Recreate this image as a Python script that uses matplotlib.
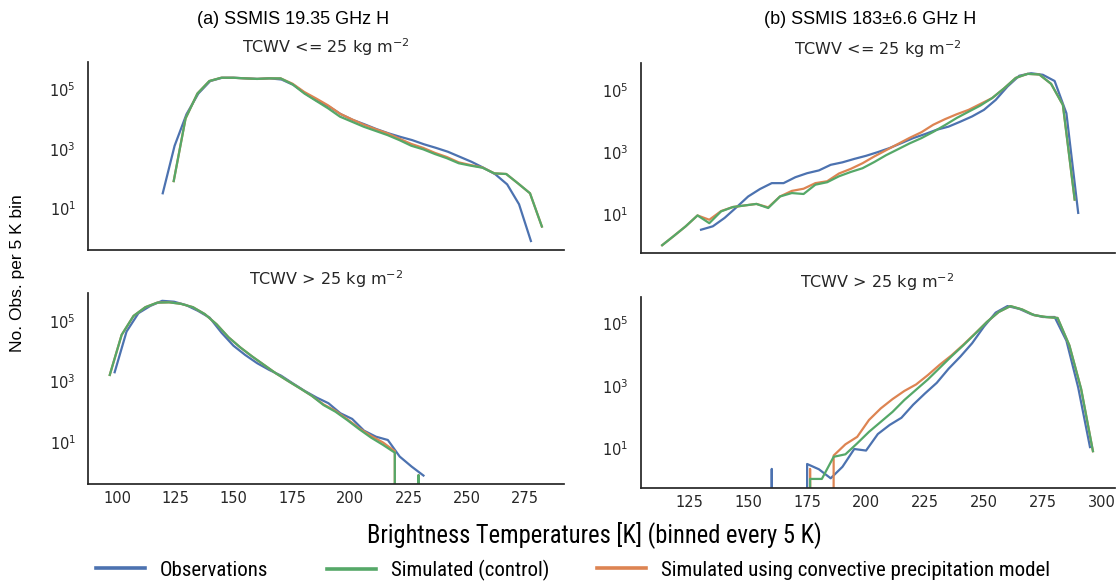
import numpy as np
import matplotlib
matplotlib.use("Agg")
import matplotlib.pyplot as plt
from matplotlib import font_manager as fm
from matplotlib.ticker import FixedLocator, NullLocator
from matplotlib.lines import Line2D

# ---------------- data (counts per bin) ----------------
# bin spacing
left_step, right_step = 5.09, 5.0

# (a) 19.35 GHz H, TCWV <= 25
tl_obs_x0, tl_sim_x0 = 119.6, 124.3
tl_obs = [31.6, 1260, 14500, 72400, 190000, 245000, 245000, 234000, 224000, 234000,
          214000, 141000, 72400, 40700, 26300, 14500, 9330, 6610, 4570, 3310,
          2510, 1950, 1410, 1070, 794, 537, 363, 229, 138, 63.1, 13.5, 0.78]
tl_ctrl = [81.3, 10500, 72400, 190000, 245000, 245000, 234000, 224000, 234000, 234000,
           148000, 72400, 40700, 22900, 12000, 8130, 5500, 3980, 2880, 1950,
           1260, 955, 661, 479, 324, 269, 229, 148, 141, 67.6, 31.6, 2.4]
tl_conv = [81.3, 10500, 72400, 190000, 245000, 245000, 234000, 224000, 234000, 234000,
           155000, 81300, 49000, 28800, 15100, 9770, 6460, 4570, 3310, 2190,
           1450, 1070, 724, 525, 347, 282, 234, 148, 141, 67.6, 31.6, 2.4]

# (a) 19.35 GHz H, TCWV > 25
bl_obs_x0, bl_sim_x0 = 99.0, 96.9
bl_obs = [2040, 45700, 186000, 324000, 479000, 447000, 347000, 224000, 132000, 41700,
          15500, 7590, 4070, 2450, 1580, 871, 490, 295, 191, 89.1,
          57.5, 23.4, 14.8, 11.5, 3.24, 1.51, 0.76]
bl_ctrl = [1660, 35500, 151000, 295000, 417000, 427000, 380000, 295000, 174000, 79400,
           29500, 13500, 6760, 3550, 1860, 1050, 603, 339, 166, 100,
           52.5, 26.3, 13.8, 7.94, 4.37, 0, 0.79, 0]
bl_conv = [1660, 35500, 151000, 295000, 417000, 427000, 380000, 295000, 174000, 79400,
           29500, 13500, 6760, 3550, 1860, 1050, 603, 339, 174, 107,
           56.2, 28.2, 15.8, 9.55, 4.9, 0, 0.79, 0]

# (b) 183+-6.6 GHz H, TCWV <= 25
tr_obs_x0, tr_sim_x0 = 130.0, 113.5
tr_obs = [3.16, 4.07, 7.59, 16.6, 37.2, 64.6, 100, 100, 155, 209,
          257, 389, 468, 603, 759, 1000, 1350, 1950, 2820, 3800,
          5250, 6610, 9550, 14100, 22900, 47900, 129000, 288000, 347000, 309000,
          195000, 17800, 11.0]
tr_ctrl = [1, 2, 4.07, 9.12, 5.13, 12.3, 17.0, 19.1, 21.4, 15.8,
           37.2, 47.9, 44.7, 89.1, 107, 166, 229, 302, 479, 794,
           1230, 1910, 2820, 4470, 7410, 12600, 20000, 31600, 55000, 112000,
           245000, 331000, 316000, 158000, 33100, 29.5]
tr_conv = [1, 2, 4.07, 9.12, 6.61, 12.6, 17.0, 19.1, 21.4, 16.6,
           37.2, 56.2, 66.1, 100, 115, 204, 288, 437, 724, 1150,
           1820, 2880, 4370, 7590, 11500, 16600, 22900, 35500, 55000, 112000,
           245000, 331000, 316000, 158000, 33100, 29.5]

# (b) 183+-6.6 GHz H, TCWV > 25
br_obs_x0, br_sim_x0 = 155.0, 171.25
br_obs = [0, 2.2, 0, 0, 3.16, 2.14, 1.1, 2.57, 9.55, 8.51,
          28.8, 56.2, 95.5, 251, 575, 1260, 3550, 8710, 23400, 79400,
          224000, 363000, 295000, 200000, 162000, 162000, 28200, 891, 11.0]
br_ctrl = [0, 1.05, 1.05, 5.37, 6.46, 14.5, 33.9, 70.8, 148, 355,
           759, 1620, 3800, 8910, 20000, 46800, 112000, 234000, 363000, 282000,
           186000, 162000, 151000, 20000, 794, 8.13]
br_conv = [0, 2.2, 0, 5.89, 13.5, 23.4, 81.3, 191, 380, 692,
           1120, 2240, 4790, 9550, 20900, 47900, 112000, 234000, 363000, 282000,
           186000, 162000, 151000, 20000, 794, 8.13]

panel_titles = ["(a) SSMIS 19.35 GHz H", "(b) SSMIS 183\u00b16.6 GHz H"]
sub_titles = [r"TCWV <= 25 kg m$^{-2}$", r"TCWV > 25 kg m$^{-2}$"]
series_labels = ["Observations", "Simulated (control)",
                 "Simulated using convective precipitation model"]
left_xticks = [100, 125, 150, 175, 200, 225, 250, 275]
right_xticks = [125, 150, 175, 200, 225, 250, 275, 300]
xlabel_text = "Brightness Temperatures [K] (binned every 5 K)"
ylabel_text = "No. Obs. per 5 K bin"

BLUE, GREEN, ORANGE = "#4C72B0", "#55A868", "#DD8452"
DARK = "#262626"

W, H = 1119, 581
fig = plt.figure(figsize=(W / 100, H / 100), dpi=100)


def narrow_font():
    entries = fm.fontManager.ttflist

    def regular(f):
        return f.style == "normal" and f.weight in (400, "normal", "regular", "book")

    for name in ["Liberation Sans Narrow", "Arial Narrow", "Roboto Condensed",
                 "Noto Sans Condensed", "DejaVu Sans Condensed", "Open Sans Condensed"]:
        for f in entries:
            if f.name == name and regular(f):
                return fm.FontProperties(fname=f.fname)
    for f in entries:
        if regular(f) and (str(f.stretch) in ("condensed", "semi-condensed", "extra-condensed")
                           or "Condensed" in f.name or "Narrow" in f.name):
            return fm.FontProperties(fname=f.fname)
    return fm.FontProperties(family="Liberation Sans")


NARROW = narrow_font()
renderer = fig.canvas.get_renderer()


def fit_size(text, fp, target_px):
    p = fp.copy()
    p.set_size(10)
    t = fig.text(0, 0, text, fontproperties=p)
    w = t.get_window_extent(renderer).width
    t.remove()
    return 10 * target_px / w


def px_rect(x0, y0, x1, y1):
    return [x0 / W, 1 - y1 / H, (x1 - x0) / W, (y1 - y0) / H]


ax_tl = fig.add_axes(px_rect(88.3, 61.7, 563.6, 250.0))
ax_bl = fig.add_axes(px_rect(88.3, 293.3, 563.6, 484.3))
ax_tr = fig.add_axes(px_rect(640.7, 63.3, 1114.5, 253.3))
ax_br = fig.add_axes(px_rect(640.7, 296.7, 1114.5, 487.7))


def xgrid(x0, step, n):
    return x0 + step * np.arange(n)


def draw(ax, step, obs_x0, obs, sim_x0, ctrl, conv):
    ax.set_yscale("log")
    ax.plot(xgrid(obs_x0, step, len(obs)), obs, color=BLUE, lw=1.6, zorder=2)
    ax.plot(xgrid(sim_x0, step, len(conv)), conv, color=ORANGE, lw=1.6, zorder=2.1)
    ax.plot(xgrid(sim_x0, step, len(ctrl)), ctrl, color=GREEN, lw=1.6, zorder=2.2)


draw(ax_tl, left_step, tl_obs_x0, tl_obs, tl_sim_x0, tl_ctrl, tl_conv)
draw(ax_bl, left_step, bl_obs_x0, bl_obs, bl_sim_x0, bl_ctrl, bl_conv)
draw(ax_tr, right_step, tr_obs_x0, tr_obs, tr_sim_x0, tr_ctrl, tr_conv)
draw(ax_br, right_step, br_obs_x0, br_obs, br_sim_x0, br_ctrl, br_conv)

for ax, col, row in [(ax_tl, 0, 0), (ax_bl, 0, 1), (ax_tr, 1, 0), (ax_br, 1, 1)]:
    for s in ("top", "right"):
        ax.spines[s].set_visible(False)
    for s in ("left", "bottom"):
        ax.spines[s].set_color(DARK)
        ax.spines[s].set_linewidth(1.25)
    ax.tick_params(axis="both", which="both", length=0, colors=DARK, labelsize=10.5)
    ax.tick_params(axis="y", pad=9)
    ax.tick_params(axis="x", pad=5)
    ax.yaxis.set_major_locator(FixedLocator([1e1, 1e3, 1e5]))
    ax.yaxis.set_minor_locator(NullLocator())
    if col == 0:
        ax.set_xlim(87.7, 291.4)
        ax.set_ylim(10 ** -0.41, 10 ** 5.93)
        ax.xaxis.set_major_locator(FixedLocator(left_xticks))
    else:
        ax.set_xlim(104.4, 305.4)
        ax.set_ylim(10 ** -0.26, 10 ** 5.86)
        ax.xaxis.set_major_locator(FixedLocator(right_xticks))
    if row == 0:
        ax.tick_params(axis="x", labelbottom=False)
    ax.set_title(sub_titles[row], fontsize=11.5, color=DARK, pad=6)

fig.text(293 / W, 1 - 20 / H, panel_titles[0], ha="center", va="center",
         fontsize=13, family="Liberation Sans", color="black")
fig.text(870 / W, 1 - 20 / H, panel_titles[1], ha="center", va="center",
         fontsize=13, family="Liberation Sans", color="black")

fig.text(18 / W, 1 - 273 / H, ylabel_text, rotation=90, ha="center",
         va="center", fontsize=12.5, family="Liberation Sans", color="black")

xl_fp = NARROW.copy()
xl_fp.set_size(fit_size(xlabel_text, NARROW, 452))
fig.text(594 / W, 1 - 535 / H, xlabel_text, ha="center", va="center",
         fontproperties=xl_fp, color="black")

lg_size = fit_size(series_labels[2], NARROW, 388)
lg_fp = NARROW.copy()
lg_fp.set_size(lg_size)
fs_px = lg_size * 100 / 72
legend_x = [95.6, 327.0, 597.0]
for color, label, x in zip([BLUE, GREEN, ORANGE], series_labels, legend_x):
    h = Line2D([], [], color=color, lw=2.6)
    fig.legend([h], [label], loc="center left", bbox_to_anchor=(x / W, 1 - 570 / H),
               frameon=False, prop=lg_fp, handlelength=49 / fs_px,
               handletextpad=15 / fs_px, borderpad=0, borderaxespad=0)

fig.savefig("out.png", dpi=100)
